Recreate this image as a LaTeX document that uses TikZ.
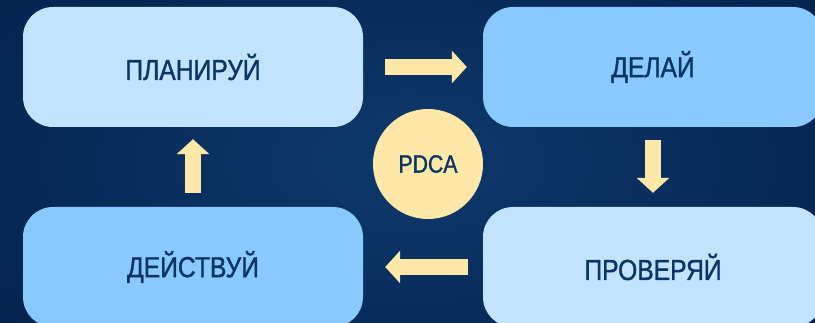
\documentclass[tikz,border=0pt]{standalone}
\usepackage{fontspec}
\setmainfont[FakeStretch=0.85,FakeBold=1.2]{Liberation Sans}
\usetikzlibrary{arrows.meta}
\definecolor{bgmid}{HTML}{0C3A6C}
\definecolor{bgout}{HTML}{05234F}
\definecolor{boxlight}{HTML}{C3E3FD}
\definecolor{boxmid}{HTML}{89CAFE}
\definecolor{txt}{HTML}{0B3564}
\definecolor{pale}{HTML}{FDE8A8}
\tikzset{
  stage/.style={rounded corners=30pt, minimum width=340pt, minimum height=120pt,
    inner sep=0pt, text=txt, font=\fontsize{29}{33}\selectfont},
  light/.style={stage, fill=boxlight},
  mid/.style={stage, fill=boxmid},
  hub/.style={circle, fill=pale, minimum size=110pt, inner sep=0pt, text=txt,
    font=\fontsize{25}{29}\selectfont},
  fat/.style={draw=pale, line width=16pt,
    -{Triangle[width=32pt,length=15pt]}}
}
\begin{document}
\begin{tikzpicture}[x=1pt,y=-1pt]
\useasboundingbox (0,0) rectangle (815,323);
\clip (0,0) rectangle (815,323);
\shade[inner color=bgmid, outer color=bgout] (-100,-100) rectangle (915,423);
\node[light] (p) at (193,67) {ПЛАНИРУЙ};
\node[mid]   (d) at (653,67) {ДЕЛАЙ};
\node[light] (c) at (653,267) {ПРОВЕРЯЙ};
\node[mid]   (a) at (193,267) {ДЕЙСТВУЙ};
\node[hub]   (h) at (428,164) {PDCA};
\draw[fat] ([xshift=22pt]p.east) -- ([xshift=-16pt]d.west);
\draw[fat] ([yshift=-13pt]d.south) -- ([yshift=14pt]c.north);
\draw[fat] ([xshift=-15pt]c.west) -- ([xshift=22pt]a.east);
\draw[fat] ([yshift=14pt]a.north) -- ([yshift=-12pt]p.south);
\end{tikzpicture}
\end{document}
